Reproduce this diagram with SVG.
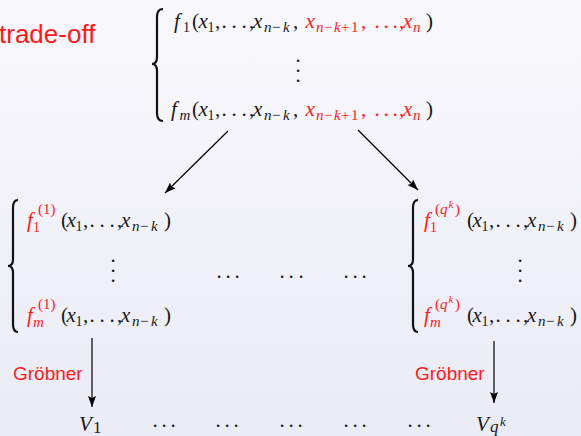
<svg xmlns="http://www.w3.org/2000/svg" width="581" height="436" viewBox="0 0 581 436">
<defs>
<linearGradient id="bg" x1="0" y1="0" x2="0" y2="1">
<stop offset="0" stop-color="#f8f8fc"/>
<stop offset="1" stop-color="#ebebf5"/>
</linearGradient>
<marker id="ah" markerWidth="12" markerHeight="9" refX="11" refY="4" orient="auto" markerUnits="userSpaceOnUse">
<path d="M0,0 L11,4 L0,8 L2,4 z" fill="#000"/>
</marker>
</defs>
<style>
.m{font-family:"Liberation Serif","Times New Roman",serif;font-size:21px;fill:#1a1a1a}
.i{font-style:italic}
.s{font-size:15px}
.d{font-size:14px}
.t{font-size:11px}
.r{fill:#ff2020}
.lab{font-family:"Liberation Sans",Arial,sans-serif;fill:#ff1a1a}
.br{fill:none;stroke:#111;stroke-width:2.2}
.ar{fill:none;stroke:#000;stroke-width:1.2;marker-end:url(#ah)}
</style>
<rect width="581" height="436" fill="url(#bg)"/>

<text id="tradeoff" class="lab" x="-1" y="43" font-size="26">trade-off</text>

<g id="top-system">
<path class="br" d="M163,9 Q157,9 157,17 L157,57 Q157,64 152,64 Q157,64 157,71 L157,113 Q157,121 163,121"/>
<text class="m">
<tspan class="i" x="174" y="28">f</tspan><tspan class="d" x="183" y="32">1</tspan><tspan x="192" y="28">(</tspan><tspan class="i" x="198.5" y="28">x</tspan><tspan class="d" x="207.5" y="32">1</tspan><tspan x="215" y="28">,</tspan><tspan x="221.4 231.4 241.4" y="28">...</tspan><tspan x="249" y="28">,</tspan><tspan class="i" x="253" y="28">x</tspan><tspan class="s i" x="264" y="32">n</tspan><tspan class="s" x="272" y="32">−</tspan><tspan class="s i" x="283" y="32">k</tspan><tspan x="293" y="28">,</tspan><tspan class="i r" x="305.5" y="28">x</tspan><tspan class="s i r" x="316" y="32">n</tspan><tspan class="s r" x="324" y="32">−</tspan><tspan class="s i r" x="334" y="32">k</tspan><tspan class="s r" x="341" y="32">+</tspan><tspan class="s r" x="351" y="32">1</tspan><tspan class="r" x="361" y="28">,</tspan><tspan class="r" x="374.4 383.4 392.4" y="28">...</tspan><tspan class="r" x="399" y="28">,</tspan><tspan class="i r" x="403" y="28">x</tspan><tspan class="s i r" x="413" y="32">n</tspan><tspan x="426" y="28">)</tspan>
</text>
<text class="m" x="295.4 295.4 295.4" y="61.7 71.7 81.7">...</text>
<text class="m">
<tspan class="i" x="171" y="116">f</tspan><tspan class="s i" x="179.5" y="120">m</tspan><tspan x="192" y="116">(</tspan><tspan class="i" x="198.5" y="116">x</tspan><tspan class="d" x="207.5" y="120">1</tspan><tspan x="215" y="116">,</tspan><tspan x="221.4 231.4 241.4" y="116">...</tspan><tspan x="249" y="116">,</tspan><tspan class="i" x="253" y="116">x</tspan><tspan class="s i" x="264" y="120">n</tspan><tspan class="s" x="272" y="120">−</tspan><tspan class="s i" x="283" y="120">k</tspan><tspan x="293" y="116">,</tspan><tspan class="i r" x="305.5" y="116">x</tspan><tspan class="s i r" x="316" y="120">n</tspan><tspan class="s r" x="324" y="120">−</tspan><tspan class="s i r" x="334" y="120">k</tspan><tspan class="s r" x="341" y="120">+</tspan><tspan class="s r" x="351" y="120">1</tspan><tspan class="r" x="361" y="116">,</tspan><tspan class="r" x="374.4 383.4 392.4" y="116">...</tspan><tspan class="r" x="399" y="116">,</tspan><tspan class="i r" x="403" y="116">x</tspan><tspan class="s i r" x="413" y="120">n</tspan><tspan x="426" y="116">)</tspan>
</text>
</g>

<g id="left-system">
<path class="br" d="M18,200 Q13,200 13,208 L13,259 Q13,266 8,266 Q13,266 13,273 L13,324 Q13,332 18,332"/>
<text class="m">
<tspan class="i r" x="27" y="227">f</tspan><tspan class="s r" x="38" y="214">(1)</tspan><tspan class="d r" x="33" y="232">1</tspan><tspan x="61" y="227">(</tspan><tspan class="i" x="66.5" y="227">x</tspan><tspan class="d" x="75.5" y="231">1</tspan><tspan x="83" y="227">,</tspan><tspan x="89.4 99.4 109.4" y="227">...</tspan><tspan x="117" y="227">,</tspan><tspan class="i" x="121" y="227">x</tspan><tspan class="s i" x="132" y="231">n</tspan><tspan class="s" x="140" y="231">−</tspan><tspan class="s i" x="151" y="231">k</tspan><tspan x="164" y="227">)</tspan>
</text>
<text class="m" x="110.4 110.4 110.4" y="261.7 271.7 281.7">...</text>
<text class="m">
<tspan class="i r" x="27" y="322">f</tspan><tspan class="s r" x="38" y="309">(1)</tspan><tspan class="s i r" x="33" y="327">m</tspan><tspan x="61" y="322">(</tspan><tspan class="i" x="66.5" y="322">x</tspan><tspan class="d" x="75.5" y="326">1</tspan><tspan x="83" y="322">,</tspan><tspan x="89.4 99.4 109.4" y="322">...</tspan><tspan x="117" y="322">,</tspan><tspan class="i" x="121" y="322">x</tspan><tspan class="s i" x="132" y="326">n</tspan><tspan class="s" x="140" y="326">−</tspan><tspan class="s i" x="151" y="326">k</tspan><tspan x="164" y="322">)</tspan>
</text>
</g>

<g id="right-system">
<path class="br" d="M418,200 Q413,200 413,208 L413,259 Q413,266 408,266 Q413,266 413,273 L413,324 Q413,332 418,332"/>
<text class="m">
<tspan class="i r" x="424" y="227">f</tspan><tspan class="s r" x="435" y="214">(</tspan><tspan class="s i r" x="440" y="214">q</tspan><tspan class="t i r" x="448.5" y="208">k</tspan><tspan class="s r" x="455" y="214">)</tspan><tspan class="d r" x="430" y="232">1</tspan><tspan x="467" y="227">(</tspan><tspan class="i" x="472.5" y="227">x</tspan><tspan class="d" x="481.5" y="231">1</tspan><tspan x="489" y="227">,</tspan><tspan x="495.4 505.4 515.4" y="227">...</tspan><tspan x="523" y="227">,</tspan><tspan class="i" x="527" y="227">x</tspan><tspan class="s i" x="538" y="231">n</tspan><tspan class="s" x="546" y="231">−</tspan><tspan class="s i" x="557" y="231">k</tspan><tspan x="570" y="227">)</tspan>
</text>
<text class="m" x="517.4 517.4 517.4" y="261.7 271.7 281.7">...</text>
<text class="m">
<tspan class="i r" x="424" y="322">f</tspan><tspan class="s r" x="435" y="309">(</tspan><tspan class="s i r" x="440" y="309">q</tspan><tspan class="t i r" x="448.5" y="303">k</tspan><tspan class="s r" x="455" y="309">)</tspan><tspan class="s i r" x="430" y="327">m</tspan><tspan x="467" y="322">(</tspan><tspan class="i" x="472.5" y="322">x</tspan><tspan class="d" x="481.5" y="326">1</tspan><tspan x="489" y="322">,</tspan><tspan x="495.4 505.4 515.4" y="322">...</tspan><tspan x="523" y="322">,</tspan><tspan class="i" x="527" y="322">x</tspan><tspan class="s i" x="538" y="326">n</tspan><tspan class="s" x="546" y="326">−</tspan><tspan class="s i" x="557" y="326">k</tspan><tspan x="570" y="322">)</tspan>
</text>
</g>

<g id="middle-dots">
<text class="m" x="216.4 225.4 234.4" y="277.7">...</text>
<text class="m" x="279.4 288.4 298.4" y="277.7">...</text>
<text class="m" x="343.4 352.4 361.4" y="277.7">...</text>
</g>

<g id="V1">
<text class="m" font-size="26"><tspan class="i" x="79" y="431">V</tspan><tspan x="93" y="433" font-size="17">1</tspan></text>
</g>
<g id="bottom-dots">
<text class="m" x="152.4 161.4 170.4" y="426.7">...</text>
<text class="m" x="215.4 224.4 233.4" y="426.7">...</text>
<text class="m" x="279.4 288.4 297.4" y="426.7">...</text>
<text class="m" x="343.4 352.4 361.4" y="426.7">...</text>
<text class="m" x="407.4 416.4 425.4" y="426.7">...</text>
</g>
<g id="Vqk">
<text class="m" font-size="26"><tspan class="i" x="476" y="431">V</tspan><tspan class="i" x="490" y="432" font-size="17">q</tspan><tspan class="i" x="500" y="426" font-size="13">k</tspan></text>
</g>

<g id="connectors">
<path class="ar" d="M228,131 L165,193"/>
<path class="ar" d="M358,130 L418,190"/>
<path class="ar" d="M92,338 L92,407"/>
<path class="ar" d="M494,341 L494,403"/>
</g>
<text id="grobner-left" class="lab" x="13" y="380" font-size="19">Gröbner</text>
<text id="grobner-right" class="lab" x="415" y="380" font-size="19">Gröbner</text>
</svg>
